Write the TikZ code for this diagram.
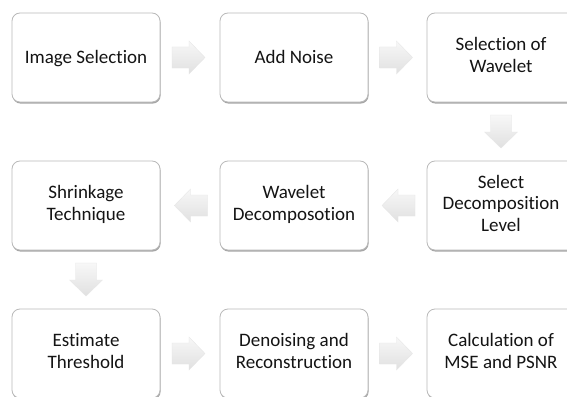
\documentclass[tikz,border=0pt]{standalone}
\usepackage{fontspec}
\setmainfont{Carlito}[RawFeature={-liga}]
\usetikzlibrary{calc,shadows}
\newcommand\topstrut{\rule{0pt}{17pt}}
\newcommand\botstrut{\rule[-5pt]{0pt}{5pt}}
\tikzset{
  box/.style={draw=gray!55, line width=0.8pt, fill=white, rounded corners=8pt,
    minimum width=148pt, minimum height=89pt, align=center, text=black!92,
    font=\fontsize{19}{21.5}\selectfont, inner sep=2pt,
    execute at begin node=\topstrut, execute at end node=\botstrut,
    drop shadow={shadow xshift=0.6pt, shadow yshift=-1.6pt, opacity=0.35, fill=black}},
  arrowfill/.style={top color=gray!6, bottom color=gray!24, draw=gray!20, line width=0.3pt}
}
\newcommand\blockarrow[2]{%
  \path[arrowfill, shift={(#1)}, rotate=#2]
    (-16.5,-10.5) -- (0.5,-10.5) -- (0.5,-16.5) -- (16.5,0) -- (0.5,16.5) -- (0.5,10.5) -- (-16.5,10.5) -- cycle;}
\begin{document}
\begin{tikzpicture}[x=1pt,y=1pt]
\clip (0,0) rectangle (567,-396);
\fill[white] (0,0) rectangle (567,-396);
\node[box] (n1) at (86,-57.5) {Image Selection};
\node[box] (n2) at (294,-57.5) {Add Noise};
\node[box] (n3) at (501,-57.5) {Selection of\\Wavelet};
\node[box] (n4) at (501,-205.5) {Select\\Decomposition\\Level};
\node[box] (n5) at (294,-205.5) {Wavelet\\Decomposotion};
\node[box] (n6) at (86,-205.5) {Shrinkage\\Technique};
\node[box] (n7) at (86,-353.5) {Estimate\\Threshold};
\node[box] (n8) at (294,-353.5) {Denoising and\\Reconstruction};
\node[box] (n9) at (501,-353.5) {Calculation of\\MSE and PSNR};
\coordinate (a12) at ($(n1.east)!0.5!(n2.west)+(-1.5,0)$);
\coordinate (a23) at ($(n2.east)!0.5!(n3.west)+(-1.5,0)$);
\coordinate (a34) at ($(n3.south)!0.5!(n4.north)$);
\coordinate (a45) at ($(n4.west)!0.5!(n5.east)+(1,0)$);
\coordinate (a56) at ($(n5.west)!0.5!(n6.east)+(1,0)$);
\coordinate (a67) at ($(n6.south)!0.5!(n7.north)$);
\coordinate (a78) at ($(n7.east)!0.5!(n8.west)+(-1.5,0)$);
\coordinate (a89) at ($(n8.east)!0.5!(n9.west)+(-1.5,0)$);
\blockarrow{a12}{0}
\blockarrow{a23}{0}
\blockarrow{a34}{-90}
\blockarrow{a45}{180}
\blockarrow{a56}{180}
\blockarrow{a67}{-90}
\blockarrow{a78}{0}
\blockarrow{a89}{0}
\end{tikzpicture}
\end{document}
